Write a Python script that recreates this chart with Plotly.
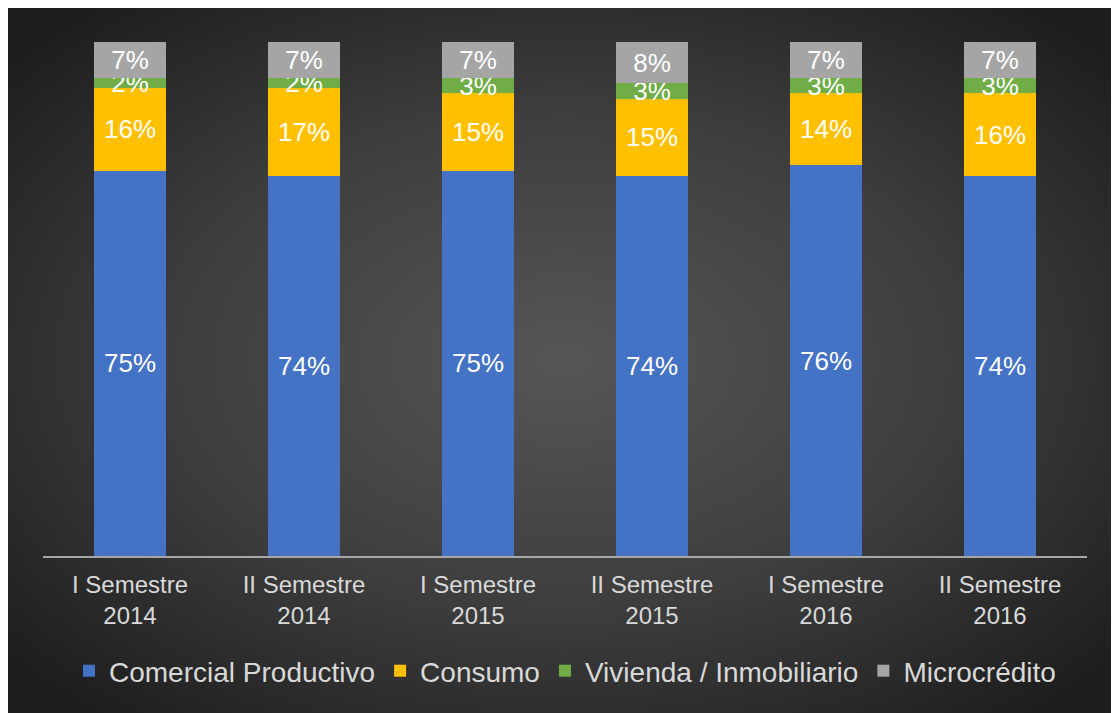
import base64
import plotly.graph_objects as go

categories = ["I Semestre<br>2014", "II Semestre<br>2014", "I Semestre<br>2015",
              "II Semestre<br>2015", "I Semestre<br>2016", "II Semestre<br>2016"]
comercial = [75, 74, 75, 74, 76, 74]
consumo = [16, 17, 15, 15, 14, 16]
vivienda = [2, 2, 3, 3, 3, 3]
microcredito = [7, 7, 7, 8, 7, 7]

series = [
    ("Comercial Productivo", comercial, "#4472c4"),
    ("Consumo", consumo, "#ffc000"),
    ("Vivienda / Inmobiliario", vivienda, "#70ad47"),
    ("Microcrédito", microcredito, "#a5a5a5"),
]

# page body adds an 8px offset; figure sized to fill the rest of the window
W, H = 1111, 705
ml, mr, mt, mb = 35, 32, 34, 157
pw, ph = W - ml - mr, H - mt - mb

fig = go.Figure()
for name, vals, color in series:
    fig.add_trace(go.Bar(
        x=categories, y=vals, name=name,
        marker=dict(color=color, line=dict(width=0)),
        text=[f"{v}%" for v in vals],
        textposition="inside", insidetextanchor="middle",
        textfont=dict(family="Liberation Sans, Arial, sans-serif", size=26, color="#ffffff"),
        constraintext="none", cliponaxis=False,
    ))

svg = f'''<svg xmlns="http://www.w3.org/2000/svg" width="{W}" height="{H}" viewBox="0 0 {W} {H}" preserveAspectRatio="none">
<defs><radialGradient id="g" cx="50%" cy="50%" r="65%">
<stop offset="0%" stop-color="#565656"/>
<stop offset="55%" stop-color="#3d3d3d"/>
<stop offset="100%" stop-color="#1e1e1e"/>
</radialGradient></defs>
<rect x="0" y="0" width="{W}" height="{H}" fill="url(#g)"/>
</svg>'''
src = "data:image/svg+xml;base64," + base64.b64encode(svg.encode()).decode()

fig.add_layout_image(dict(
    source=src, xref="paper", yref="paper",
    x=-ml / pw, y=1 + mt / ph,
    sizex=W / pw, sizey=H / ph,
    xanchor="left", yanchor="top", sizing="stretch", layer="below",
))

fig.update_layout(
    width=W, height=H,
    margin=dict(l=ml, r=mr, t=mt, b=mb, pad=0),
    paper_bgcolor="#262626", plot_bgcolor="rgba(0,0,0,0)",
    barmode="stack", bargap=0.59,
    uniformtext=dict(mode="show", minsize=26),
    font=dict(family="Liberation Sans, Arial, sans-serif", color="#d9d9d9"),
    xaxis=dict(showline=True, linecolor="#a6a6a6", linewidth=2, ticks="",
               showgrid=False, zeroline=False, ticklabelstandoff=6,
               tickfont=dict(size=24, color="#d9d9d9")),
    yaxis=dict(range=[0, 100], visible=False, showgrid=False, zeroline=False),
    legend=dict(orientation="h", x=0.5, xanchor="center", y=-(663 - (H - mb)) / ph,
                yanchor="middle", font=dict(size=28, color="#d9d9d9"),
                bgcolor="rgba(0,0,0,0)", traceorder="normal", itemwidth=30),
    showlegend=True,
)

fig.write_html("out.html")
